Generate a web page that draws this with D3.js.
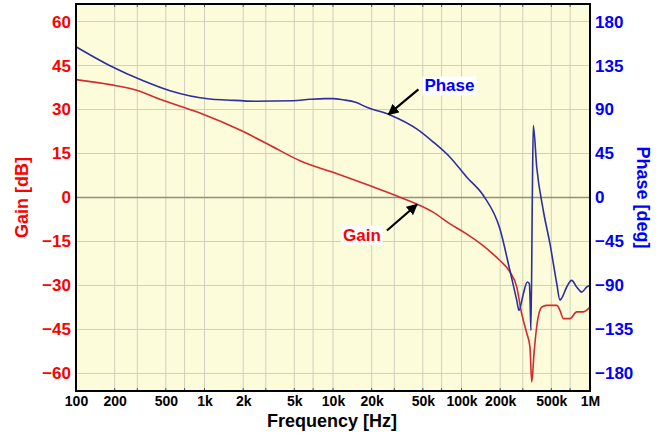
<!DOCTYPE html>
<html>
<head>
<meta charset="utf-8">
<script src="https://cdn.jsdelivr.net/npm/d3@7"></script>
<style>
  html, body { margin: 0; padding: 0; background: #ffffff; }
  svg { display: block; }
  text { font-family: "Liberation Sans", Arial, Helvetica, sans-serif; font-weight: bold; }
</style>
</head>
<body>
<svg id="chart" width="670" height="438"></svg>
<script>
// ---- data ----
const freqTicks = [100, 200, 500, 1e3, 2e3, 5e3, 1e4, 2e4, 5e4, 1e5, 2e5, 5e5, 1e6];
const freqLabels = ["100", "200", "500", "1k", "2k", "5k", "10k", "20k", "50k", "100k", "200k", "500k", "1M"];
const gridFreqs = [200, 300, 500, 700, 1e3, 2e3, 3e3, 5e3, 7e3, 1e4, 2e4, 3e4, 5e4, 7e4, 1e5, 2e5, 3e5, 5e5, 7e5];
const gainTicks = [60, 45, 30, 15, 0, -15, -30, -45, -60];
const phaseTicks = [180, 135, 90, 45, 0, -45, -90, -135, -180];

const gainFreq = [100, 184, 300, 450, 922, 1890, 3870, 5540, 10000, 18300, 33200, 60000, 81400, 110000, 148000, 176000, 199000, 238000, 269000, 294000, 322000, 341000, 352000, 367000, 385000, 421000, 460000, 551000, 584000, 620000, 699000, 788000, 887000, 1000000];
const gainDb = [40.2, 38.5, 36.5, 33.5, 28.8, 23.0, 16.0, 12.5, 8.6, 4.4, 0.1, -5.0, -9.0, -12.5, -16.5, -19.3, -21.5, -25.4, -30.5, -39.6, -46.3, -51.0, -62.9, -53.0, -44.0, -37.4, -36.8, -36.8, -38.5, -41.3, -41.3, -39.0, -39.0, -37.4];

const phaseFreq = [100, 184, 334, 539, 1100, 1490, 2500, 4880, 6620, 8660, 10000, 12000, 15000, 18300, 27800, 44800, 60000, 81400, 110000, 148000, 199000, 238000, 269000, 280000, 303000, 325000, 337000, 341000, 347000, 356000, 362000, 385000, 433000, 488000, 551000, 584000, 602000, 659000, 720000, 788000, 862000, 943000, 1000000];
const phaseDeg = [154.3, 134.9, 119.5, 109.3, 100.8, 99.8, 98.5, 99.0, 100.5, 101.2, 101.2, 100.0, 97.5, 92.3, 84.5, 70.2, 57.0, 41.2, 20.7, 2.0, -32.0, -74.6, -105.0, -115.5, -98.4, -86.5, -88.0, -100.0, -136.0, 3.8, 73.6, 31.0, -13.3, -47.3, -88.0, -105.0, -103.0, -91.6, -84.8, -91.6, -96.8, -91.6, -90.0];

// ---- layout ----
const L = 76, R = 590, T = 4, B = 391;
const svg = d3.select("#chart");

const x = d3.scaleLog().domain([100, 1e6]).range([L, R]);
const yG = d3.scaleLinear().domain([-66, 66]).range([B, T]);
const yP = d3.scaleLinear().domain([-198, 198]).range([B, T]);

// background
svg.append("rect").attr("x", L).attr("y", T).attr("width", R - L).attr("height", B - T)
  .attr("fill", "#fdfcda");

// grid
const grid = svg.append("g");
grid.selectAll("line.v").data(gridFreqs).join("line")
  .attr("x1", d => x(d)).attr("x2", d => x(d)).attr("y1", T).attr("y2", B)
  .attr("stroke", "#cfcfbd").attr("stroke-width", 1);
grid.selectAll("line.h").data(gainTicks).join("line")
  .attr("x1", L).attr("x2", R).attr("y1", d => yG(d)).attr("y2", d => yG(d))
  .attr("stroke", d => d === 0 ? "#8f8f7a" : "#cfcfbd").attr("stroke-width", d => d === 0 ? 1.5 : 1);

// small ticks at top/bottom borders
grid.selectAll("line.tt").data(gridFreqs).join("line")
  .attr("x1", d => x(d)).attr("x2", d => x(d)).attr("y1", T).attr("y2", T + 3)
  .attr("stroke", "#555").attr("stroke-width", 1);
svg.append("g").selectAll("line").data(gridFreqs).join("line")
  .attr("x1", d => x(d)).attr("x2", d => x(d)).attr("y1", B - 3).attr("y2", B)
  .attr("stroke", "#555").attr("stroke-width", 1);

// clip
svg.append("clipPath").attr("id", "clip").append("rect")
  .attr("x", L).attr("y", T).attr("width", R - L).attr("height", B - T);

const gainData = gainFreq.map((f, i) => [f, gainDb[i]]);
const phaseData = phaseFreq.map((f, i) => [f, phaseDeg[i]]);

const gainLine = d3.line().x(d => x(d[0])).y(d => yG(d[1])).curve(d3.curveMonotoneX);
const phaseLine = d3.line().x(d => x(d[0])).y(d => yP(d[1])).curve(d3.curveMonotoneX);

const plot = svg.append("g").attr("clip-path", "url(#clip)");
plot.append("path").datum(gainData).attr("d", gainLine)
  .attr("fill", "none").attr("stroke", "#d42a2e").attr("stroke-width", 1.6).attr("stroke-linejoin", "round");
plot.append("path").datum(phaseData).attr("d", phaseLine)
  .attr("fill", "none").attr("stroke", "#2e2e9e").attr("stroke-width", 1.6).attr("stroke-linejoin", "round");

// border
svg.append("rect").attr("x", L).attr("y", T).attr("width", R - L).attr("height", B - T)
  .attr("fill", "none").attr("stroke", "#000").attr("stroke-width", 2);

// axes
const axL = svg.append("g").attr("transform", `translate(${L},0)`)
  .call(d3.axisLeft(yG).tickValues(gainTicks).tickSize(0).tickPadding(5));
axL.select(".domain").remove();
axL.selectAll("text").attr("fill", "#ff0000").style("font-size", "17px").style("font-family", "'Liberation Sans', Arial, sans-serif").style("font-weight", "bold");

const axR = svg.append("g").attr("transform", `translate(${R},0)`)
  .call(d3.axisRight(yP).tickValues(phaseTicks).tickSize(0).tickPadding(5));
axR.select(".domain").remove();
axR.selectAll("text").attr("fill", "#0000ff").style("font-size", "17px").style("font-family", "'Liberation Sans', Arial, sans-serif").style("font-weight", "bold");

const axB = svg.append("g").attr("transform", `translate(0,${B})`)
  .call(d3.axisBottom(x).tickValues(freqTicks).tickFormat((d, i) => freqLabels[i]).tickSize(0).tickPadding(5));
axB.select(".domain").remove();
axB.selectAll("text").attr("fill", "#000").style("font-size", "14px").style("font-family", "'Liberation Sans', Arial, sans-serif").style("font-weight", "bold");

// axis titles
svg.append("text").attr("x", (L + R) / 2 - 1).attr("y", 427).attr("text-anchor", "middle")
  .attr("fill", "#000").style("font-size", "18px").text("Frequency [Hz]");
svg.append("text").attr("transform", `translate(28,${yG(0)}) rotate(-90)`).attr("text-anchor", "middle")
  .attr("fill", "#ff0000").style("font-size", "18px").text("Gain [dB]");
svg.append("text").attr("transform", `translate(637,${yG(0)}) rotate(90)`).attr("text-anchor", "middle")
  .attr("fill", "#0000ff").style("font-size", "18px").text("Phase [deg]");

// annotations
const defs = svg.append("defs");
defs.append("marker").attr("id", "arrow").attr("viewBox", "0 0 10 10").attr("refX", 9).attr("refY", 5)
  .attr("markerWidth", 5).attr("markerHeight", 5).attr("orient", "auto")
  .append("path").attr("d", "M0,0 L10,5 L0,10 Z").attr("fill", "#000");

function annotate(label, color, tipX, tipY, dx, dy, textDx, textDy) {
  const tx = tipX + textDx, ty = tipY + textDy;
  const t = svg.append("text").attr("x", tx).attr("y", ty).attr("text-anchor", "middle")
    .attr("fill", color).style("font-size", "17px").text(label);
  const bb = t.node().getBBox();
  svg.insert("rect", () => t.node()).attr("x", bb.x - 2).attr("y", bb.y).attr("width", bb.width + 4).attr("height", bb.height)
    .attr("fill", "#fff");
  svg.append("line").attr("x1", tipX + dx).attr("y1", tipY + dy).attr("x2", tipX).attr("y2", tipY)
    .attr("stroke", "#000").attr("stroke-width", 2.2).attr("marker-end", "url(#arrow)");
}
annotate("Phase", "#0000ff", x(27000), yP(85), 30, -25, 61, -23);
annotate("Gain", "#ff0000", x(45000), yG(-2.4), -30, 26, -55, 36);
</script>
</body>
</html>
